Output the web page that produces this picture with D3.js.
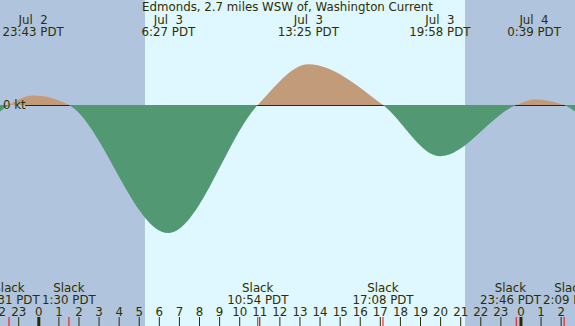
<!DOCTYPE html>
<html>
<head>
<meta charset="utf-8" />
<title>Edmonds Current</title>
<script src="https://d3js.org/d3.v7.min.js"></script>
<style>
  body { margin: 0; }
  text { font-family: "DejaVu Sans", sans-serif; font-size: 11.8px; fill: #2e2e00; white-space: pre; }
</style>
</head>
<body>
<svg id="chart"></svg>
<script>
// all times are hours counted from Jul 3 00:00 PDT
var title = "Edmonds, 2.7 miles WSW of, Washington Current";

// current speed (knots, flood +, ebb -) at slacks and maxima
var curveHours  = [-4.7, -1.483, -0.283, 1.5, 6.45, 10.9, 13.417, 17.133, 19.967, 23.767, 24.65, 26.15, 29.6];
var curveSpeeds = [-1.0, 0, 0.12, 0, -1.6, 0, 0.51, 0, -0.64, 0, 0.07, 0, -1.3];

// max current labels (top)
var maxHours = [-0.283, 6.45, 13.417, 19.967, 24.65];
var maxDates = ["Jul  2", "Jul  3", "Jul  3", "Jul  3", "Jul  4"];
var maxTimes = ["23:43 PDT", "6:27 PDT", "13:25 PDT", "19:58 PDT", "0:39 PDT"];

// slack labels (bottom)
var slackHours = [-1.483, 1.5, 10.9, 17.133, 23.767, 26.15];
var slackTimes = ["22:31 PDT", "1:30 PDT", "10:54 PDT", "17:08 PDT", "23:46 PDT", "2:09 PDT"];

// daylight
var sunrise = 5.283, sunset = 21.217;

var hourTicks = d3.range(-2, 27);

var width = 575, height = 326;
var svg = d3.select("#chart").attr("width", width).attr("height", height);

var x = d3.scaleLinear().domain([-1.931, 26.69]).range([0, width]);
var y = d3.scaleLinear().domain([0, 1]).range([105, 25]);
var y0 = y(0);

// backgrounds
svg.append("rect").attr("width", width).attr("height", height).attr("fill", "#b0c4de");
svg.append("rect")
    .attr("x", x(sunrise)).attr("width", x(sunset) - x(sunrise))
    .attr("height", height).attr("fill", "#dff7fe");

var defs = svg.append("defs");
defs.append("clipPath").attr("id", "above")
    .append("rect").attr("width", width).attr("height", y0);
defs.append("clipPath").attr("id", "below")
    .append("rect").attr("y", y0).attr("width", width).attr("height", height - y0);

var pts = curveHours.map(function(h, i) { return [h, curveSpeeds[i]]; });
var area = d3.area()
    .x(function(d) { return x(d[0]); })
    .y0(y0)
    .y1(function(d) { return y(d[1]); })
    .curve(d3.curveMonotoneX);

svg.append("path").datum(pts).attr("d", area)
    .attr("fill", "#c19b7a").attr("clip-path", "url(#above)");

svg.append("line")
    .attr("x1", 25).attr("x2", width)
    .attr("y1", y0 + 0.5).attr("y2", y0 + 0.5)
    .attr("stroke", "#2b2b00");

svg.append("path").datum(pts).attr("d", area)
    .attr("fill", "#529873").attr("clip-path", "url(#below)");

svg.append("text").attr("x", 3).attr("y", y0 + 4).text("0 kt");

// title
svg.append("text").attr("x", width / 2).attr("y", 11)
    .attr("text-anchor", "middle").text(title);

// push apart overlapping centred labels
function spread(nodes, xs) {
    var w = nodes.map(function(n) { return n.getComputedTextLength(); });
    var pos = xs.slice();
    for (var k = 0; k < 3; k++) {
        for (var i = 1; i < pos.length; i++) {
            var need = (w[i - 1] + w[i]) / 2 + 2;
            var gap = pos[i] - pos[i - 1];
            if (gap < need) {
                pos[i - 1] -= (need - gap) / 2;
                pos[i] += (need - gap) / 2;
            }
        }
    }
    return pos;
}

// max labels
svg.selectAll(".mdate").data(maxHours).enter().append("text")
    .attr("class", "mdate").attr("text-anchor", "middle")
    .attr("x", function(d) { return x(d); }).attr("y", 24)
    .text(function(d, i) { return maxDates[i]; });
svg.selectAll(".mtime").data(maxHours).enter().append("text")
    .attr("class", "mtime").attr("text-anchor", "middle")
    .attr("x", function(d) { return x(d); }).attr("y", 36)
    .text(function(d, i) { return maxTimes[i]; });

// slack labels
var s1 = svg.selectAll(".slack").data(slackHours).enter().append("text")
    .attr("class", "slack").attr("text-anchor", "middle")
    .attr("y", 292).text("Slack");
var s2 = svg.selectAll(".stime").data(slackHours).enter().append("text")
    .attr("class", "stime").attr("text-anchor", "middle")
    .attr("y", 304).text(function(d, i) { return slackTimes[i]; });
var sx = spread(s2.nodes(), slackHours.map(x));
s1.attr("x", function(d, i) { return sx[i]; });
s2.attr("x", function(d, i) { return sx[i]; });

// hour axis
var ticks = svg.append("g");
ticks.selectAll("text").data(hourTicks).enter().append("text")
    .attr("text-anchor", "middle")
    .attr("x", function(d) { return x(d); }).attr("y", 316)
    .text(function(d) { return (d + 24) % 24; });
ticks.selectAll("line").data(hourTicks).enter().append("line")
    .attr("x1", function(d) { return x(d); }).attr("x2", function(d) { return x(d); })
    .attr("y1", 317).attr("y2", height)
    .attr("stroke", "#2b2b00")
    .attr("stroke-width", function(d) { return d % 24 === 0 ? 3 : 1; });

svg.append("g").selectAll("line").data(slackHours).enter().append("line")
    .attr("x1", function(d) { return x(d); }).attr("x2", function(d) { return x(d); })
    .attr("y1", 317).attr("y2", height)
    .attr("stroke", "#ff0000");
</script>
</body>
</html>
